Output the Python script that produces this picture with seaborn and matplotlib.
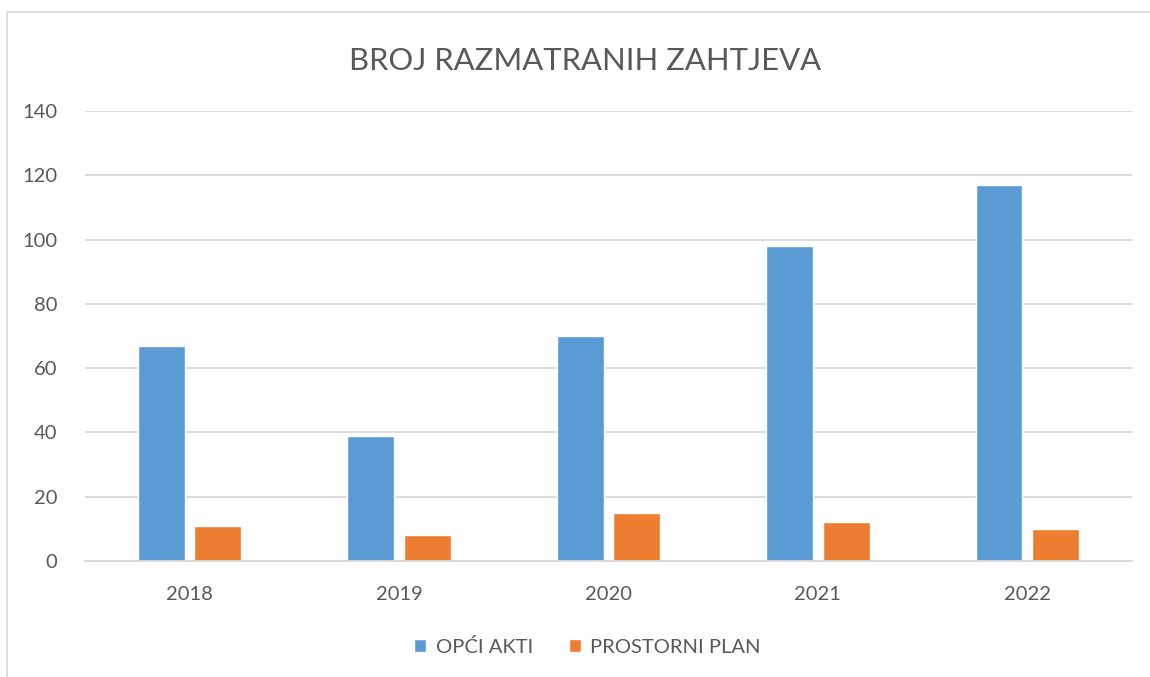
import pandas as pd
import matplotlib.pyplot as plt
import seaborn as sns
from matplotlib.patches import Rectangle

# Podaci
godine = ['2018', '2019', '2020', '2021', '2022']
opci_akti = [67, 39, 70, 98, 117]
prostorni_plan = [11, 8, 15, 12, 10]
serije = ['OPĆI AKTI', 'PROSTORNI PLAN']
boje = ['#5B9BD5', '#ED7D31']

df = pd.DataFrame({
    'Godina': godine * 2,
    'Broj': opci_akti + prostorni_plan,
    'Serija': [serije[0]] * len(godine) + [serije[1]] * len(godine),
})

sns.set_style('white')
plt.rcParams['font.family'] = ['Lato', 'DejaVu Sans']
siva = '#595959'

fig = plt.figure(figsize=(11.5, 6.77), dpi=100)
ax = fig.add_axes([0.0739, 0.1713, 0.9104, 0.6647])

sns.barplot(data=df, x='Godina', y='Broj', hue='Serija', palette=boje,
            width=0.54, gap=0.17, ax=ax, saturation=1)

ax.set_ylim(0, 140)
ax.set_yticks(range(0, 141, 20))
ax.yaxis.grid(True, color='#d9d9d9', linewidth=1.3)
ax.set_axisbelow(True)
for s in ['top', 'right', 'left']:
    ax.spines[s].set_visible(False)
ax.spines['bottom'].set_color('#d9d9d9')
ax.spines['bottom'].set_linewidth(1.3)
ax.tick_params(axis='both', length=0, labelsize=14.5, labelcolor=siva)
ax.tick_params(axis='y', pad=20)
ax.tick_params(axis='x', pad=18)
ax.set_xlabel('')
ax.set_ylabel('')

fig.suptitle('BROJ RAZMATRANIH ZAHTJEVA', x=0.509, y=0.91, fontsize=22.3,
             color=siva, va='center')

ax.legend(loc='center', bbox_to_anchor=(0.48, -0.19), ncol=2, frameon=False,
          fontsize=14.5, labelcolor=siva, handlelength=0.6, handleheight=0.6,
          columnspacing=1.8, handletextpad=0.45)

# okvir grafikona
fig.patches.append(Rectangle((0.0065, -0.05), 1.1, 1.032, transform=fig.transFigure,
                             fill=False, edgecolor='#d9d9d9', linewidth=1.2))

fig.savefig('out.png', dpi=100)
